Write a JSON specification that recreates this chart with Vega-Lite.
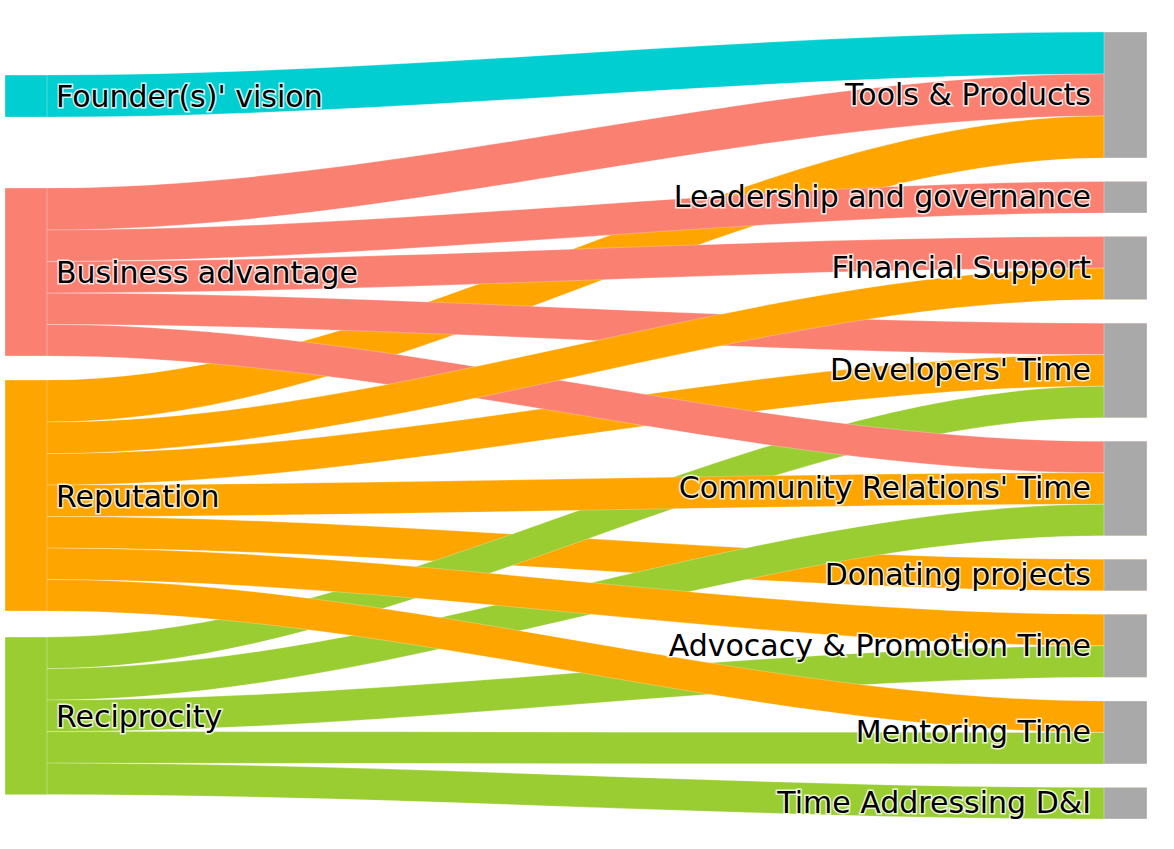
{
  "$schema": "https://vega.github.io/schema/vega-lite/v6.json",
  "width": 1174,
  "height": 849,
  "padding": 0,
  "autosize": {"type": "none"},
  "background": "white",
  "config": {"view": {"stroke": null}},
  "datasets": {
    "nodes": [
      {"node": "gL0", "rank": 0.5},
      {"node": "Founder(s)' vision", "rank": 1},
      {"node": "gL1", "rank": 1.5},
      {"node": "Business advantage", "rank": 2},
      {"node": "gL2", "rank": 2.5},
      {"node": "Reputation", "rank": 3},
      {"node": "gL3", "rank": 3.5},
      {"node": "Reciprocity", "rank": 4},
      {"node": "Tools & Products", "rank": 1},
      {"node": "gR1", "rank": 1.5},
      {"node": "Leadership and governance", "rank": 2},
      {"node": "gR2", "rank": 2.5},
      {"node": "Financial Support", "rank": 3},
      {"node": "gR3", "rank": 3.5},
      {"node": "Developers' Time", "rank": 4},
      {"node": "gR4", "rank": 4.5},
      {"node": "Community Relations' Time", "rank": 5},
      {"node": "gR5", "rank": 5.5},
      {"node": "Donating projects", "rank": 6},
      {"node": "gR6", "rank": 6.5},
      {"node": "Advocacy & Promotion Time", "rank": 7},
      {"node": "gR7", "rank": 7.5},
      {"node": "Mentoring Time", "rank": 8},
      {"node": "gR8", "rank": 8.5},
      {"node": "Time Addressing D&I", "rank": 9}
    ],
    "sides": [
      {"side": "source", "stage": [0, 1]},
      {"side": "target", "stage": [2, 3]}
    ]
  },
  "data": {
    "values": [
      {"source": "Founder(s)' vision", "target": "Tools & Products", "value": 4},
      {"source": "Business advantage", "target": "Tools & Products", "value": 4},
      {"source": "Reputation", "target": "Tools & Products", "value": 4},
      {"source": "Business advantage", "target": "Leadership and governance", "value": 3},
      {"source": "Reputation", "target": "Donating projects", "value": 3},
      {"source": "Business advantage", "target": "Developers' Time", "value": 3},
      {"source": "Reputation", "target": "Developers' Time", "value": 3},
      {"source": "Reciprocity", "target": "Developers' Time", "value": 3},
      {"source": "Business advantage", "target": "Community Relations' Time", "value": 3},
      {"source": "Reputation", "target": "Community Relations' Time", "value": 3},
      {"source": "Reciprocity", "target": "Community Relations' Time", "value": 3},
      {"source": "Business advantage", "target": "Financial Support", "value": 3},
      {"source": "Reputation", "target": "Financial Support", "value": 3},
      {"source": "Reputation", "target": "Advocacy & Promotion Time", "value": 3},
      {"source": "Reciprocity", "target": "Advocacy & Promotion Time", "value": 3},
      {"source": "Reputation", "target": "Mentoring Time", "value": 3},
      {"source": "Reciprocity", "target": "Mentoring Time", "value": 3},
      {"source": "Reciprocity", "target": "Time Addressing D&I", "value": 3},
      {"source": "gL0", "value": 4.1},
      {"source": "gL1", "value": 6.76},
      {"source": "gL2", "value": 2.29},
      {"source": "gL3", "value": 2.48},
      {"target": "gR1", "value": 2.244},
      {"target": "gR2", "value": 2.244},
      {"target": "gR3", "value": 2.244},
      {"target": "gR4", "value": 2.244},
      {"target": "gR5", "value": 2.244},
      {"target": "gR6", "value": 2.244},
      {"target": "gR7", "value": 2.244},
      {"target": "gR8", "value": 2.244}
    ]
  },
  "transform": [
    {"lookup": "source", "from": {"data": {"name": "nodes"}, "key": "node", "fields": ["rank"]}, "as": ["srank"]},
    {"lookup": "target", "from": {"data": {"name": "nodes"}, "key": "node", "fields": ["rank"]}, "as": ["trank"]},
    {"fold": ["source", "target"], "as": ["side", "node"]},
    {"filter": "isValid(datum.node)"},
    {"lookup": "node", "from": {"data": {"name": "nodes"}, "key": "node", "fields": ["rank"]}, "as": ["nrank"]},
    {"lookup": "side", "from": {"data": {"name": "sides"}, "key": "side", "fields": ["stage"]}},
    {"flatten": ["stage"]},
    {
      "stack": "value",
      "groupby": ["stage"],
      "sort": [
        {"field": "nrank", "order": "ascending"},
        {"field": "srank", "order": "ascending"},
        {"field": "trank", "order": "ascending"}
      ],
      "as": ["y0", "y1"],
      "offset": "zero"
    }
  ],
  "layer": [
    {
      "transform": [{"filter": "isValid(datum.source) && isValid(datum.target)"}],
      "mark": {"type": "area", "interpolate": "monotone", "stroke": "white", "strokeWidth": 0.5, "strokeOpacity": 0.5},
      "encoding": {
        "x": {"field": "stage", "type": "quantitative", "axis": null,
              "scale": {"domain": [0, 1, 2, 3], "range": [5, 47, 1104, 1147], "nice": false, "zero": false}},
        "y": {"field": "y0", "type": "quantitative", "axis": null, "stack": null,
              "scale": {"domain": [-3.0476, 77.81], "reverse": true, "nice": false, "zero": false}},
        "y2": {"field": "y1"},
        "detail": [{"field": "source"}, {"field": "target"}],
        "color": {"field": "source", "type": "nominal", "legend": null,
          "scale": {
            "domain": ["Founder(s)' vision", "Business advantage", "Reputation", "Reciprocity", "Tools & Products", "Leadership and governance", "Financial Support", "Developers' Time", "Community Relations' Time", "Donating projects", "Advocacy & Promotion Time", "Mentoring Time", "Time Addressing D&I"],
            "range": ["#00CED1", "#FA8072", "#FFA500", "#9ACD32", "#A9A9A9", "#A9A9A9", "#A9A9A9", "#A9A9A9", "#A9A9A9", "#A9A9A9", "#A9A9A9", "#A9A9A9", "#A9A9A9"]
          }}
      }
    },
    {
      "transform": [
        {"filter": "isValid(datum.source) && isValid(datum.target)"},
        {"aggregate": [
          {"op": "min", "field": "stage", "as": "xs"},
          {"op": "max", "field": "stage", "as": "xe"},
          {"op": "min", "field": "y0", "as": "top"},
          {"op": "max", "field": "y1", "as": "bot"}
        ], "groupby": ["node", "side"]}
      ],
      "layer": [
        {
          "mark": {"type": "rect", "stroke": "white", "strokeWidth": 0.5, "strokeOpacity": 0.6},
          "encoding": {
            "x": {"field": "xs", "type": "quantitative", "axis": null},
            "x2": {"field": "xe"},
            "y": {"field": "top", "type": "quantitative", "axis": null},
            "y2": {"field": "bot"},
            "color": {"field": "node", "type": "nominal", "legend": null}
          }
        },
        {
          "transform": [
            {"fold": ["top", "bot"], "as": ["edge", "yv"]},
            {"aggregate": [{"op": "mean", "field": "yv", "as": "ymid"}], "groupby": ["node", "side", "xs", "xe"]}
          ],
          "layer": [
            {
              "transform": [{"filter": "datum.side == 'source'"}],
              "mark": {"type": "text", "align": "left", "baseline": "middle", "dx": 9, "dy": 2, "font": "DejaVu Sans", "fontSize": 30, "fill": "white", "stroke": "white", "strokeWidth": 3, "strokeOpacity": 0.8},
              "encoding": {
                "x": {"field": "xe", "type": "quantitative", "axis": null},
                "y": {"field": "ymid", "type": "quantitative", "axis": null},
                "text": {"field": "node"}
              }
            },
            {
              "transform": [{"filter": "datum.side == 'source'"}],
              "mark": {"type": "text", "align": "left", "baseline": "middle", "dx": 9, "dy": 2, "font": "DejaVu Sans", "fontSize": 30, "fill": "black"},
              "encoding": {
                "x": {"field": "xe", "type": "quantitative", "axis": null},
                "y": {"field": "ymid", "type": "quantitative", "axis": null},
                "text": {"field": "node"}
              }
            },
            {
              "transform": [{"filter": "datum.side == 'target'"}],
              "mark": {"type": "text", "align": "right", "baseline": "middle", "dx": -13, "dy": 1, "font": "DejaVu Sans", "fontSize": 30, "fill": "white", "stroke": "white", "strokeWidth": 3, "strokeOpacity": 0.8},
              "encoding": {
                "x": {"field": "xs", "type": "quantitative", "axis": null},
                "y": {"field": "ymid", "type": "quantitative", "axis": null},
                "text": {"field": "node"}
              }
            },
            {
              "transform": [{"filter": "datum.side == 'target'"}],
              "mark": {"type": "text", "align": "right", "baseline": "middle", "dx": -13, "dy": 1, "font": "DejaVu Sans", "fontSize": 30, "fill": "black"},
              "encoding": {
                "x": {"field": "xs", "type": "quantitative", "axis": null},
                "y": {"field": "ymid", "type": "quantitative", "axis": null},
                "text": {"field": "node"}
              }
            }
          ]
        }
      ]
    }
  ]
}
